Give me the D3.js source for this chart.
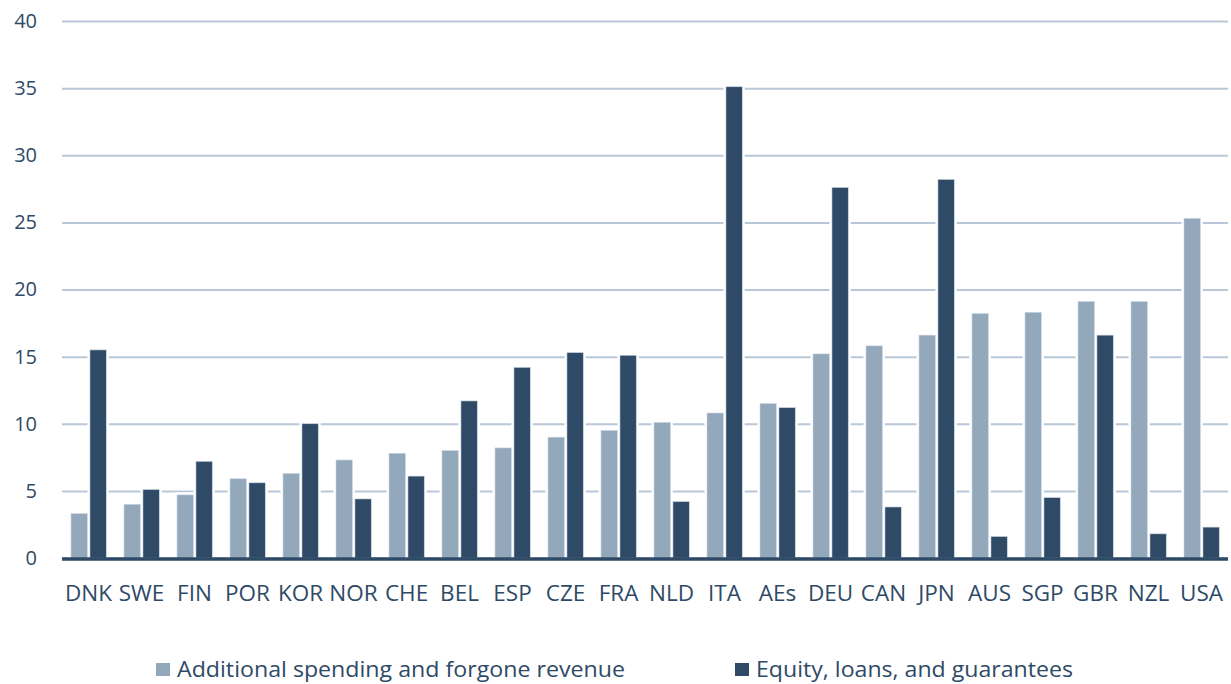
<!DOCTYPE html>
<html>
<head>
<meta charset="utf-8">
<script src="https://cdn.jsdelivr.net/npm/d3@7"></script>
<style>
  body { margin: 0; background: #fff; }
  text { font-family: "Open Sans", sans-serif; fill: #2e4a66; }
</style>
</head>
<body>
<div id="chart"></div>
<script>
// data (percent of GDP)
const countries = ["DNK", "SWE", "FIN", "POR", "KOR", "NOR", "CHE", "BEL", "ESP", "CZE", "FRA",
                   "NLD", "ITA", "AEs", "DEU", "CAN", "JPN", "AUS", "SGP", "GBR", "NZL", "USA"];
const spending = [3.3, 4.0, 4.7, 5.9, 6.3, 7.3, 7.8, 8.0, 8.2, 9.0, 9.5,
                  10.1, 10.8, 11.5, 15.2, 15.8, 16.6, 18.2, 18.3, 19.1, 19.1, 25.3];
const equity = [15.5, 5.1, 7.2, 5.6, 10.0, 4.4, 6.1, 11.7, 14.2, 15.3, 15.1,
                4.2, 35.1, 11.2, 27.6, 3.8, 28.2, 1.6, 4.5, 16.6, 1.8, 2.3];
const seriesNames = ["Additional spending and forgone revenue", "Equity, loans, and guarantees"];
const yTicks = [0, 5, 10, 15, 20, 25, 30, 35, 40];

const colors = ["#94a8bc", "#2e4a66"];
const width = 1231, height = 684;
const m = { left: 62, right: 1228, top: 21, bottom: 558 };

const svg = d3.select("#chart").append("svg")
    .attr("width", width)
    .attr("height", height);

const x0 = d3.scaleBand().domain(countries).range([m.left, m.right]).padding(0);
const bw = x0.bandwidth();
const x1 = d3.scaleBand().domain([0, 1]).range([bw * 0.17, bw * 0.835]).paddingInner(0.14);
const y = d3.scaleLinear().domain([0, 40]).range([m.bottom, m.top]);

// gridlines
const yaxis = d3.axisLeft(y).tickValues(yTicks).tickSize(-(m.right - m.left)).tickPadding(25);
const gy = svg.append("g").attr("transform", `translate(${m.left},0)`).call(yaxis);
gy.select(".domain").remove();
gy.selectAll(".tick line").attr("stroke", "#b9c8d8").attr("stroke-width", 2);
gy.selectAll(".tick text").attr("font-size", 20).attr("fill", "#2e4a66")
  .attr("font-family", "Open Sans, sans-serif");

const rows = countries.map((c, i) => ({ c: c, v: [spending[i], equity[i]] }));

const groups = svg.selectAll("g.grp").data(rows).join("g")
    .attr("class", "grp")
    .attr("transform", d => `translate(${x0(d.c)},0)`);

// white halo that cuts the gridlines around each bar
groups.selectAll("rect.halo").data(d => d.v).join("rect")
    .attr("class", "halo")
    .attr("x", (d, i) => x1(i) - 2.5)
    .attr("width", x1.bandwidth() + 5)
    .attr("y", d => y(d) - 2.5)
    .attr("height", d => m.bottom - y(d) + 2.5)
    .attr("fill", "#fff");

groups.selectAll("rect.bar").data(d => d.v).join("rect")
    .attr("class", "bar")
    .attr("x", (d, i) => x1(i))
    .attr("width", x1.bandwidth())
    .attr("y", d => y(d))
    .attr("height", d => m.bottom - y(d))
    .attr("fill", (d, i) => colors[i])
    .attr("stroke", "#c9d4df")
    .attr("stroke-width", 0.6);

// baseline
svg.append("line")
    .attr("x1", m.left).attr("x2", m.right)
    .attr("y1", m.bottom + 1).attr("y2", m.bottom + 1)
    .attr("stroke", "#2e4a66").attr("stroke-width", 3.5);

// category labels
const xaxis = d3.axisBottom(x0).tickSize(0).tickPadding(0);
const gx = svg.append("g").attr("transform", `translate(0,${m.bottom})`).call(xaxis);
gx.select(".domain").remove();
gx.selectAll(".tick text")
  .attr("y", 43).attr("dy", 0)
  .attr("font-size", 22.5).attr("fill", "#2e4a66")
  .attr("font-family", "Open Sans, sans-serif");

// legend
const legendX = [156, 735];
const legendW = [448, 317];
const legend = svg.selectAll("g.leg").data(seriesNames).join("g")
    .attr("class", "leg")
    .attr("transform", (d, i) => `translate(${legendX[i]},0)`);
legend.append("rect")
    .attr("x", 0).attr("y", 663).attr("width", 14).attr("height", 13)
    .attr("fill", (d, i) => colors[i]);
legend.append("text")
    .attr("x", 21).attr("y", 677)
    .attr("font-size", 22)
    .attr("textLength", (d, i) => legendW[i])
    .attr("lengthAdjust", "spacingAndGlyphs")
    .text(d => d);
</script>
</body>
</html>
